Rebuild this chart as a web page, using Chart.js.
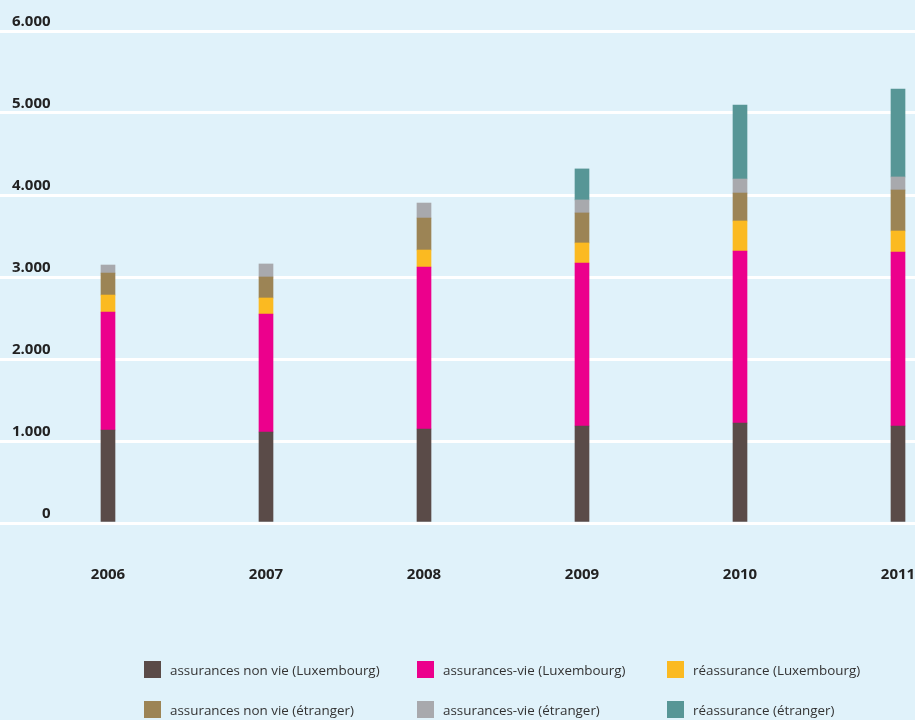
<!DOCTYPE html>
<html>
<head>
<meta charset="utf-8">
<script src="https://cdn.jsdelivr.net/npm/chart.js@4/dist/chart.umd.min.js"></script>
<style>
  html, body { margin: 0; padding: 0; background: #e0f2fa; overflow: hidden; }
  #wrap { position: relative; width: 915px; height: 720px; }
  #legend { position: absolute; left: 0; top: 0; width: 915px; height: 720px; pointer-events: none; }
  .item { position: absolute; font: 13.4px "Open Sans", sans-serif; color: #333; white-space: nowrap; }
  .item span.box { position: absolute; left: 0; top: 0; width: 17px; height: 17px; }
  .item span.txt { position: absolute; left: 26px; top: -1px; line-height: 20px; }
</style>
</head>
<body>
<div id="wrap">
  <canvas id="chart" width="915" height="720"></canvas>
  <div id="legend"></div>
</div>
<script>
// années et séries (millions EUR)
const years = ['2006', '2007', '2008', '2009', '2010', '2011'];
const nonVieLux = [1134, 1110, 1146, 1183, 1220, 1183];
const vieLux = [1439, 1439, 1976, 1988, 2097, 2122];
const reassLux = [207, 195, 207, 244, 366, 256];
const nonVieEtr = [268, 256, 390, 366, 341, 500];
const vieEtr = [98, 159, 183, 159, 171, 159];
const reassEtr = [null, null, null, 378, 903, 1073];

const seriesLabels = [
  'assurances non vie (Luxembourg)',
  'assurances-vie (Luxembourg)',
  'réassurance (Luxembourg)',
  'assurances non vie (étranger)',
  'assurances-vie (étranger)',
  'réassurance (étranger)'
];
const seriesColors = ['#5a4b48', '#ec008c', '#fbba21', '#9c8455', '#a8a9ad', '#579696'];
const seriesData = [nonVieLux, vieLux, reassLux, nonVieEtr, vieEtr, reassEtr];

const yTicks = [0, 1000, 2000, 3000, 4000, 5000, 6000];

const datasets = seriesData.map((d, i) => ({
  label: seriesLabels[i],
  data: d,
  backgroundColor: seriesColors[i],
  borderWidth: 0,
  barThickness: 14
}));

const chart = new Chart(document.getElementById('chart'), {
  type: 'bar',
  data: { labels: years, datasets },
  options: {
    responsive: false,
    animation: false,
    layout: { padding: { top: 31, bottom: 93, left: 0, right: 0 } },
    plugins: { legend: { display: false }, tooltip: { enabled: false } },
    scales: {
      x: {
        type: 'linear',
        stacked: true,
        offset: false,
        min: 2005.3165,
        max: 2011.1076,
        grid: { display: false, drawTicks: false, offset: false },
        border: { display: false },
        afterBuildTicks: s => { s.ticks = years.map(y => ({ value: +y })); },
        // pas de marge latérale : le graphique est coupé à droite
        afterFit: s => { s.paddingLeft = 0; s.paddingRight = 0; },
        ticks: {
          padding: 43,
          maxRotation: 0,
          autoSkip: false,
          color: '#222',
          font: { family: '"Open Sans"', size: 15, weight: 'bold' },
          callback: v => String(v)
        }
      },
      y: {
        stacked: true,
        min: 0,
        max: 6000,
        afterBuildTicks: s => { s.ticks = yTicks.map(v => ({ value: v })); },
        afterFit: s => { s.width = 0; },
        grid: { color: '#ffffff', lineWidth: 3, drawTicks: false },
        border: { display: false },
        ticks: {
          mirror: true,
          crossAlign: 'far',
          padding: 12,
          labelOffset: -9,
          color: '#222',
          font: { family: '"Open Sans"', size: 15, weight: 'bold' },
          callback: v => v.toLocaleString('de-DE')
        }
      }
    }
  }
});

// légende en trois colonnes
const legendCols = [144, 417, 667];
const legendRows = [661, 701];
const legendEl = document.getElementById('legend');
chart.data.datasets.forEach((ds, i) => {
  const item = document.createElement('div');
  item.className = 'item';
  item.style.left = legendCols[i % 3] + 'px';
  item.style.top = legendRows[Math.floor(i / 3)] + 'px';
  item.innerHTML = '<span class="box" style="background:' + ds.backgroundColor + '"></span><span class="txt">' + ds.label + '</span>';
  legendEl.appendChild(item);
});
</script>
</body>
</html>
